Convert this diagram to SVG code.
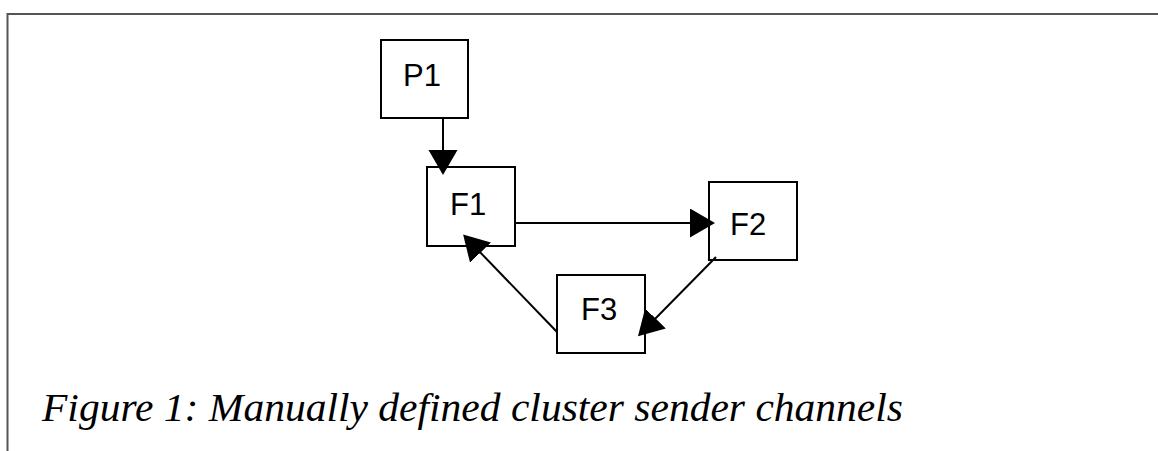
<svg xmlns="http://www.w3.org/2000/svg" width="1158" height="451" viewBox="0 0 1158 451">
<style>
.box{fill:#fff;stroke:#000;stroke-width:2}
.lbl{font-family:"Liberation Sans",Arial,sans-serif;font-size:31px;fill:#000}
.edge{fill:none;stroke:#000;stroke-width:2}
.frame{fill:none;stroke:#555;stroke-width:2}
.cap{font-family:"Liberation Serif","Times New Roman",serif;font-style:italic;font-size:41px;fill:#000}
</style>
<defs>
<marker id="ah" markerUnits="userSpaceOnUse" markerWidth="26" markerHeight="30" refX="5" refY="14.5" orient="auto">
<path d="M0,0 L25,14.5 L0,29 z" fill="#000"/>
</marker>
</defs>
<rect width="1158" height="451" fill="#fff"/>
<path class="frame" d="M7.5,451 V14 H1158"/>
<g id="P1"><rect class="box" x="381" y="40" width="87" height="78"/><text class="lbl" x="403" y="86">P1</text></g>
<g id="F1"><rect class="box" x="427" y="167" width="88" height="79"/><text class="lbl" x="450" y="215">F1</text></g>
<g id="F2"><rect class="box" x="709" y="182" width="88" height="78"/><text class="lbl" x="730" y="235">F2</text></g>
<g id="F3"><rect class="box" x="557" y="275" width="88" height="78"/><text class="lbl" x="581" y="320">F3</text></g>
<g id="connectors">
<path class="edge" d="M443,118 V155" marker-end="url(#ah)"/>
<path class="edge" d="M515,223 H695" marker-end="url(#ah)"/>
<path class="edge" d="M716,257 L652,322" marker-end="url(#ah)"/>
<path class="edge" d="M557,332 L477,249" marker-end="url(#ah)"/>
</g>
<text class="cap" x="42" y="421" textLength="861" lengthAdjust="spacingAndGlyphs">Figure 1: Manually defined cluster sender channels</text>
</svg>
